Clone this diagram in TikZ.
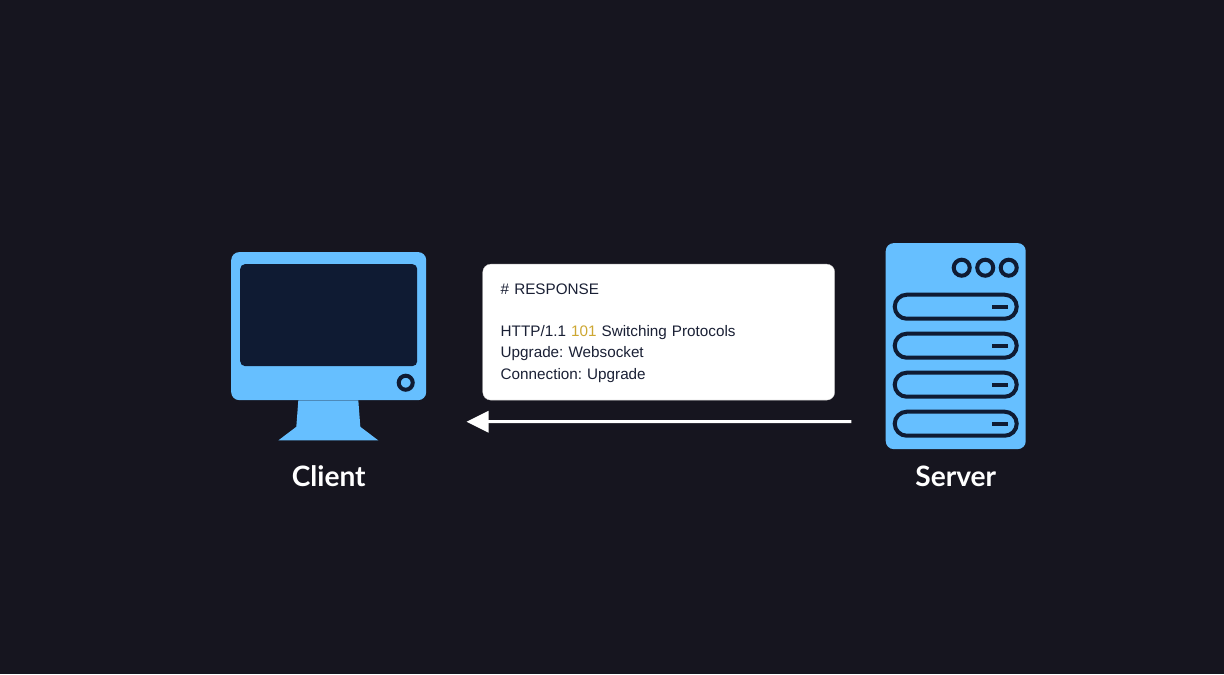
\documentclass[tikz,border=0pt]{standalone}
\usepackage{fontspec}
\setmainfont{Liberation Sans}
\newfontfamily\labelfont{Lato}
\usetikzlibrary{arrows.meta,positioning}
\definecolor{bgdark}{RGB}{22,21,31}
\definecolor{iconblue}{RGB}{102,191,255}
\definecolor{iconnavy}{RGB}{15,27,51}
\definecolor{cardtext}{RGB}{26,32,53}
\definecolor{statusgold}{RGB}{205,167,50}
\tikzset{
  iconbody/.style={rectangle,rounded corners=0.2cm,fill=iconblue,inner sep=0pt},
  slotbox/.style={rectangle,rounded corners=0.3cm,draw=iconnavy,line width=0.1cm,fill=iconblue,inner sep=0pt,minimum width=3.05cm,minimum height=0.6cm},
  ledring/.style={circle,draw=iconnavy,line width=0.1cm,fill=iconblue,inner sep=0pt,minimum size=0.4cm},
  tickbar/.style={rectangle,fill=iconnavy,inner sep=0pt,minimum width=0.4cm,minimum height=0.1cm},
  namelabel/.style={text=white,inner sep=0pt,font=\labelfont\fontsize{20}{24}\selectfont\bfseries},
  msgcard/.style={rectangle,rounded corners=0.2cm,fill=white,draw=black!25,line width=0.2pt,inner sep=0pt,
    minimum width=8.8cm,minimum height=3.4cm,text=cardtext,align=left,text width=7.9cm,
    font=\fontsize{10.85}{15.1}\selectfont\frenchspacing},
  resparr/.style={-{Triangle[length=0.55cm,width=0.525cm]},line width=0.075cm,color=white}
}
\begin{document}
\begin{tikzpicture}
  %% Canvas
  \node[rectangle,fill=bgdark,inner sep=0pt,minimum width=30.6cm,minimum height=16.85cm,anchor=north west] (canvas) at (0,0) {};

  %% Client
  \node[iconbody,minimum width=4.875cm,minimum height=3.7cm] (monitor) at (8.225,-8.16) {};
  \node[rectangle,rounded corners=0.12cm,fill=iconnavy,inner sep=0pt,minimum width=4.425cm,minimum height=2.55cm,yshift=0.275cm] (screen) at (monitor.center) {};
  \node[circle,draw=iconnavy,line width=0.1cm,fill=iconblue,inner sep=0pt,minimum size=0.35cm] (power) at (10.15,-9.575) {};
  \fill[iconblue] ([xshift=-0.76cm]monitor.south) -- ++(-0.05,-0.66) -- ++(-0.45,-0.34)
    -- ++(2.5,0) -- ++(-0.45,0.34) -- ([xshift=0.74cm]monitor.south) -- cycle;
  \node[namelabel,below=1.63cm of monitor] (client) {Client};

  %% Server
  \node[iconbody,minimum width=3.5cm,minimum height=5.15cm] (server) at (23.9,-8.66) {};
  \node[ledring] (led3) at (25.225,-6.7) {};
  \node[ledring,left=0.0875cm of led3] (led2) {};
  \node[ledring,left=0.0875cm of led2] (led1) {};
  \foreach \i/\y in {1/-7.675,2/-8.65,3/-9.625,4/-10.6}{
    \node[slotbox] (slot\i) at (23.9,\y) {};
    \node[tickbar] (tick\i) at (25,\y) {};
  }
  \node[namelabel,below=0.405cm of server] (srvname) {Server};

  %% Message
  \node[msgcard] (card) at (16.475,-8.31) {\rule{0pt}{9.2pt}\# RESPONSE\\[14.7pt]HTTP/1.1 \textcolor{statusgold}{101} Switching Protocols\\Upgrade: Websocket\\Connection: Upgrade};

  %% Arrow
  \coordinate[left=0.85cm of server.west,yshift=-1.89cm] (arrstart);
  \coordinate[right=1cm of monitor.east,yshift=-2.39cm] (arrend);
  \draw[resparr] (arrstart) -- (arrend);
\end{tikzpicture}
\end{document}
